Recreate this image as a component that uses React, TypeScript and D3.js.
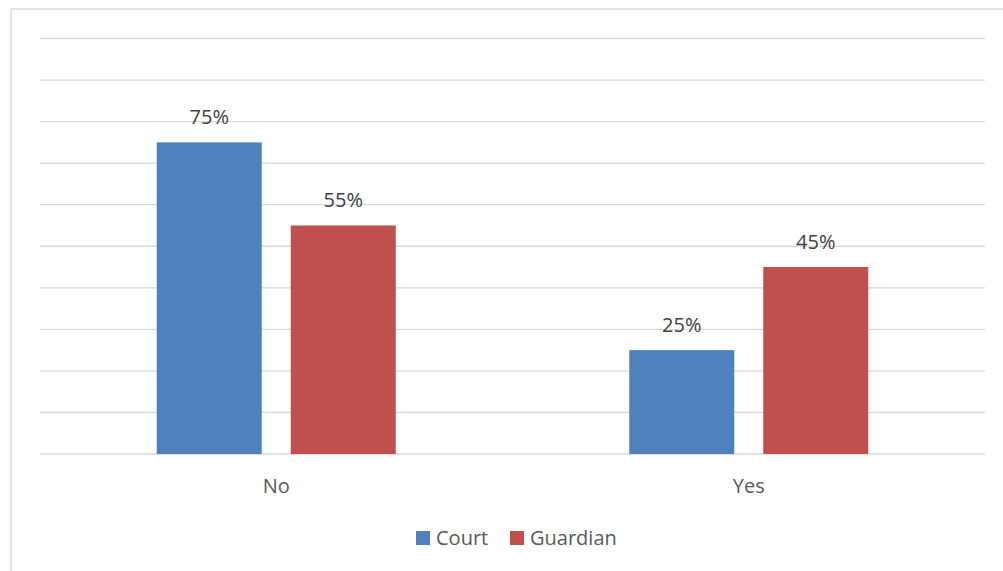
import React from "react";
import * as d3 from "d3";

const categories = ["No", "Yes"];
const seriesNames = ["Court", "Guardian"];
const courtValues = [75, 25];
const guardianValues = [55, 45];
const colors = ["#4F81BD", "#C0504D"];
const yTicks = [0, 10, 20, 30, 40, 50, 60, 70, 80, 90, 100];

export default function App() {
  const W = 1003, H = 571;
  const left = 40, right = 985, top = 38.5, bottom = 454;
  const x0 = d3.scaleBand<string>().domain(categories).range([left, right]).padding(0);
  const groupW = 239;
  const x1 = d3
    .scaleBand<string>()
    .domain(seriesNames)
    .range([(x0.bandwidth() - groupW) / 2, (x0.bandwidth() + groupW) / 2])
    .paddingInner(0.2164)
    .paddingOuter(0);
  const y = d3.scaleLinear().domain([0, 100]).range([bottom, top]);
  const seriesVals = [courtValues, guardianValues];
  const font = "'Open Sans', sans-serif";

  return (
    <svg width={W} height={H} style={{ position: "absolute", left: 0, top: 0, background: "#fff" }}>
      <rect x={11} y={9} width={1010} height={600} fill="#fff" stroke="#d9d9d9" strokeWidth={1.5} />
      {yTicks.map((t) => (
        <line key={t} x1={left} x2={right} y1={y(t)} y2={y(t)} stroke="#d9d9d9" strokeWidth={1.3} />
      ))}
      {categories.map((c, ci) => (
        <g key={c} transform={`translate(${x0(c)},0)`}>
          {seriesNames.map((s, si) => {
            const v = seriesVals[si][ci];
            const bx = x1(s)!;
            return (
              <g key={s}>
                <rect x={bx} y={y(v)} width={x1.bandwidth()} height={bottom - y(v)} fill={colors[si]} />
                <text
                  x={bx + x1.bandwidth() / 2}
                  y={y(v) - 18}
                  textAnchor="middle"
                  fontFamily={font}
                  fontSize={20}
                  fill="#404040"
                >
                  {v}%
                </text>
              </g>
            );
          })}
          <text
            x={x0.bandwidth() / 2}
            y={493}
            textAnchor="middle"
            fontFamily={font}
            fontSize={20}
            fill="#595959"
          >
            {c}
          </text>
        </g>
      ))}
      {seriesNames.map((s, si) => {
        const lx = [416, 510][si];
        return (
          <g key={s}>
            <rect x={lx} y={531} width={14} height={14} fill={colors[si]} />
            <text x={lx + 20} y={545} fontFamily={font} fontSize={20} fill="#595959">
              {s}
            </text>
          </g>
        );
      })}
    </svg>
  );
}
